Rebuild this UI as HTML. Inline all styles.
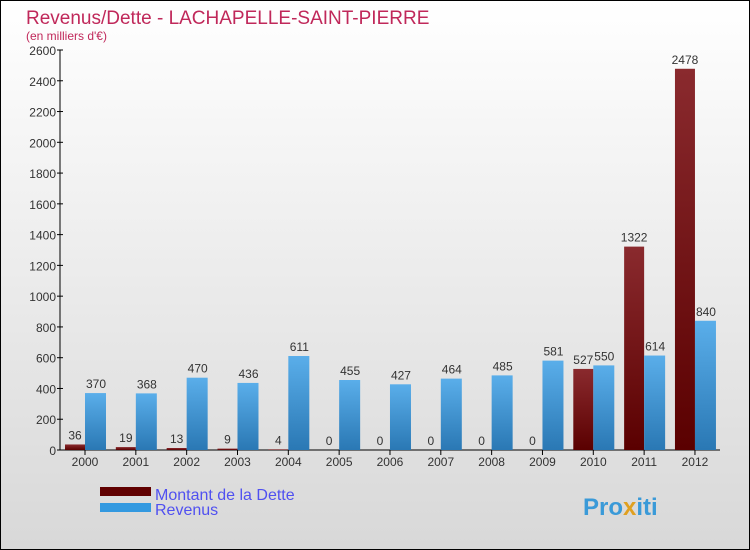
<!DOCTYPE html>
<html><head><meta charset="utf-8"><style>
body{margin:0}
#c{width:750px;height:550px;position:relative;box-sizing:border-box;border:1px solid #000;background:linear-gradient(#fff,#d8d8d8);font-family:"Liberation Sans",sans-serif;overflow:hidden}
</style></head><body>
<div id="c">
<svg id="s" width="750" height="550" style="position:absolute;left:-1px;top:-1px">
<defs>
<linearGradient id="gd" x1="0" y1="0" x2="0" y2="1"><stop offset="0" stop-color="#8a2a2e"/><stop offset="1" stop-color="#5a0000"/></linearGradient>
<linearGradient id="gr" x1="0" y1="0" x2="0" y2="1"><stop offset="0" stop-color="#5aaeea"/><stop offset="1" stop-color="#2a78b4"/></linearGradient>
</defs>
<text x="26" y="24" font-size="19" fill="#c0285a">Revenus/Dette - LACHAPELLE-SAINT-PIERRE</text>
<text x="26" y="40" font-size="12" fill="#c0285a">(en milliers d'€)</text>
<g id="g"></g>
<rect x="100" y="487" width="51" height="9" fill="#600000"/>
<text x="155" y="500" font-size="16" fill="#5050f0">Montant de la Dette</text>
<rect x="100" y="503" width="51" height="9" fill="#3399e0"/>
<text x="155" y="515" font-size="16" fill="#5050f0">Revenus</text>
<text x="583" y="515" font-size="24" font-weight="bold" fill="#3a9ad8">Pro<tspan fill="#e0a020">x</tspan>iti</text>
</svg>
</div>
<script>
const years=["2000","2001","2002","2003","2004","2005","2006","2007","2008","2009","2010","2011","2012"];
const dette=[36,19,13,9,4,0,0,0,0,0,527,1322,2478];
const revenus=[370,368,470,436,611,455,427,464,485,581,550,614,840];
const ticks=[0,200,400,600,800,1000,1200,1400,1600,1800,2000,2200,2400,2600];
const NS="http://www.w3.org/2000/svg",g=document.getElementById('g');
const y=v=>450-v*400/2600, x=i=>85+i*50.83;
function el(t,a,txt){const e=document.createElementNS(NS,t);for(const k in a)e.setAttribute(k,a[k]);if(txt!==undefined)e.textContent=txt;g.appendChild(e);return e;}
let ax=el('line',{x1:60,y1:50,x2:60,y2:450,stroke:'#000'});


let bx=el('line',{x1:60,y1:450,x2:720,y2:450,stroke:'#000'});


ticks.forEach(t=>{
 let l=el('line',{x1:57,y1:y(t),x2:63,y2:y(t),stroke:'#000'});
 
 
 let tx=el('text',{x:56,y:y(t)+5,'font-size':12,fill:'#333','text-anchor':'end'},t);
 
 
});
years.forEach((yr,i)=>{
 const cx=x(i);
 let tk=el('line',{x1:cx,y1:450,x2:cx,y2:455,stroke:'#000'});
 
 
 let lb=el('text',{x:cx,y:466,'font-size':12,fill:'#333','text-anchor':'middle'},yr);
 
 
 let d=el('rect',{x:cx-20,y:y(dette[i]),width:20,height:450-y(dette[i]),fill:'url(#gd)'});
 
 
 let dv=el('text',{x:cx-10,y:y(dette[i])-5,'font-size':12,fill:'#333','text-anchor':'middle'},dette[i]);
 
 
 let r=el('rect',{x:cx,y:y(revenus[i]),width:21,height:450-y(revenus[i]),fill:'url(#gr)'});
 
 
 let rv=el('text',{x:cx+11,y:y(revenus[i])-5,'font-size':12,fill:'#333','text-anchor':'middle'},revenus[i]);
 
 
});
</script>
</body></html>
